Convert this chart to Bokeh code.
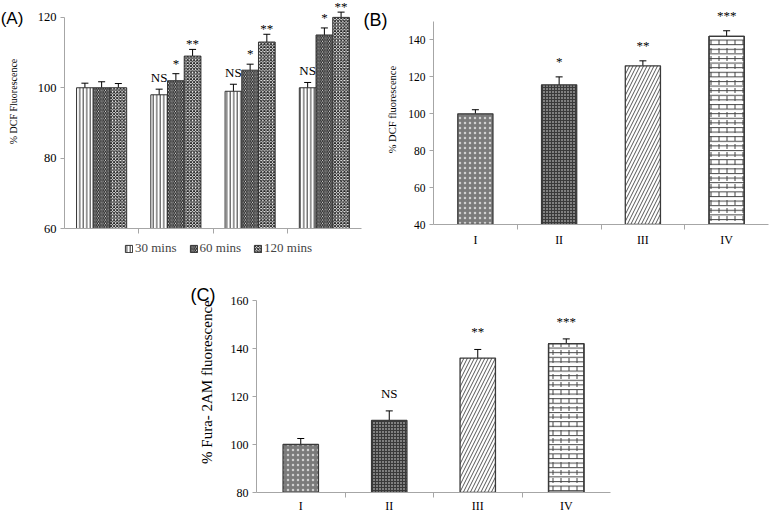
import numpy as np
from bokeh.plotting import figure
from bokeh.models import (ColumnDataSource, Range1d, FixedTicker, Whisker, TeeHead,
                          LabelSet, Label, Legend, LegendItem, Spacer)
from bokeh.layouts import column, row
from bokeh.embed import file_html
from bokeh.resources import INLINE

# ---------------- data ----------------
# Panel A: % DCF fluorescence over time (4 unlabeled groups)
a_groups = ["1", "2", "3", "4"]
a_series = ["30 mins", "60 mins", "120 mins"]
a_30 = [100, 98, 99, 100]
a_30_err = [1.3, 1.6, 2.0, 1.5]
a_30_sig = ["", "NS", "NS", "NS"]
a_60 = [100, 102, 105, 115]
a_60_err = [1.7, 2.0, 1.7, 2.0]
a_60_sig = ["", "*", "*", "*"]
a_120 = [100, 109, 113, 120]
a_120_err = [1.2, 1.9, 2.2, 1.5]
a_120_sig = ["", "**", "**", "**"]
a_yticks = [60, 80, 100, 120]

# Panel B: % DCF fluorescence
b_cats = ["I", "II", "III", "IV"]
b_vals = [100, 115.7, 126, 142]
b_err = [2.2, 4.3, 2.7, 3.0]
b_sig = ["", "*", "**", "***"]
b_yticks = [40, 60, 80, 100, 120, 140]

# Panel C: % Fura-2AM fluorescence
c_cats = ["I", "II", "III", "IV"]
c_vals = [100, 110, 136, 142]
c_err = [2.5, 4.0, 3.6, 2.0]
c_sig = ["", "NS", "**", "***"]
c_yticks = [80, 100, 120, 140, 160]

SERIF = "Liberation Serif"
SANS = "Liberation Sans"
AX = "#a6a6a6"


def make_fig(w, h, y0, y1, ytop, n, bl, br, bt, bb, yticks, ytick_size):
    p = figure(width=w, height=h, x_range=Range1d(-0.5, n - 0.5), y_range=Range1d(y0, ytop),
               output_backend="svg", toolbar_location=None,
               min_border_left=bl, min_border_right=br, min_border_top=bt, min_border_bottom=bb)
    p.outline_line_color = None
    p.xgrid.visible = False
    p.ygrid.visible = False
    p.background_fill_color = "white"
    p.border_fill_color = "white"
    ya = p.yaxis[0]
    ya.bounds = (y0, y1)
    ya.ticker = FixedTicker(ticks=yticks, minor_ticks=[])
    ya.axis_line_color = AX
    ya.major_tick_line_color = AX
    ya.major_tick_in = 0
    ya.major_tick_out = 4
    ya.major_label_standoff = 4
    ya.major_label_text_font = SERIF
    ya.major_label_text_font_size = ytick_size
    ya.major_label_text_color = "black"
    xa = p.xaxis[0]
    xa.ticker = FixedTicker(ticks=list(range(n)), minor_ticks=[k + 0.5 for k in range(n - 1)])
    xa.axis_line_color = AX
    xa.major_tick_line_color = None
    xa.major_tick_in = 0
    xa.major_tick_out = 0
    xa.minor_tick_line_color = AX
    xa.minor_tick_in = 0
    xa.minor_tick_out = 5
    xa.major_label_text_font = SERIF
    xa.major_label_text_color = "black"
    return p


def add_whisker(p, src):
    w = Whisker(source=src, base="x", upper="upper", lower="lower", dimension="height",
                line_color="black", line_width=1,
                upper_head=TeeHead(size=7, line_color="black", line_width=1),
                lower_head=TeeHead(size=7, line_color="black", line_width=1))
    p.add_layout(w)


def add_sig(p, src, yoff, size):
    ls = LabelSet(source=src, x="x", y="upper", text="sig", y_offset=yoff,
                  text_align="center", text_baseline="alphabetic",
                  text_font=SERIF, text_font_size=size, text_color="black")
    p.add_layout(ls)


def add_text(p, x, y, txt, font, size, angle=0.0, align="center"):
    # kept in the left side panel so it is not clipped to the plot frame
    p.add_layout(Label(x=x, y=y, x_units="data", y_units="data", text=txt,
                       text_font=font, text_font_size=size, angle=angle,
                       text_align=align, text_baseline="middle", text_color="black"), "left")


# ---------------- Panel A ----------------
pA = make_fig(362, 236, 60, 120, 124.8, len(a_groups), 61, 1, 0, 8, a_yticks, "12.5px")
pA.xaxis[0].major_label_text_font_size = "6px"
pA.xaxis[0].major_label_text_alpha = 0
pA.xaxis[0].major_label_standoff = 0
bw = 0.225
idx = np.arange(len(a_groups))
a_styles = [
    dict(fill_color="white", hatch_pattern="vertical_line", hatch_color="#333333", hatch_scale=3.5, hatch_weight=1),
    dict(fill_color="white", hatch_pattern="left_diagonal_line", hatch_color="#222222", hatch_scale=3.5, hatch_weight=1.2),
    dict(fill_color="white", hatch_pattern="diagonal_cross", hatch_color="#222222", hatch_scale=3.2, hatch_weight=1),
]
a_yoff = [7, 6, 1]
a_data = [(a_30, a_30_err, a_30_sig), (a_60, a_60_err, a_60_sig), (a_120, a_120_err, a_120_sig)]
for k, ((vals, errs, sig), st) in enumerate(zip(a_data, a_styles)):
    vals = np.array(vals, dtype=float)
    errs = np.array(errs, dtype=float)
    src = ColumnDataSource(dict(x=idx + (k - 1) * bw, top=vals, upper=vals + errs,
                                lower=vals - errs, sig=sig))
    pA.vbar(x="x", top="top", bottom=60, width=bw, source=src,
            line_color="#333333", line_width=1, **st)
    add_whisker(pA, src)
    add_sig(pA, src, a_yoff[k], "13px")
add_text(pA, -1.19, 96.1, "% DCF Fluorescence", SERIF, "10px", angle=np.pi / 2)
add_text(pA, -1.36, 119.7, "(A)", SANS, "17px", align="left")

# legend strip under panel A
pL = figure(width=362, height=26, x_range=Range1d(0, 1), y_range=Range1d(0, 1),
            output_backend="svg", toolbar_location=None, min_border=0,
            x_axis_location=None, y_axis_location=None)
pL.outline_line_color = None
pL.xgrid.visible = False
pL.ygrid.visible = False
items = []
for k, (st, (vals, errs, sig)) in enumerate(zip(a_styles, a_data)):
    r = pL.vbar(x="x", top="top", bottom=0, width=0.1,
                source=ColumnDataSource(dict(x=[k], top=[vals[0]])),
                line_color="#333333", line_width=1, visible=False, **st)
    items.append(LegendItem(label=a_series[k], renderers=[r]))
legA = Legend(items=items, orientation="horizontal", location=(60, 6),
              glyph_width=9, glyph_height=9, label_standoff=2, spacing=12,
              label_text_font=SERIF, label_text_font_size="13px", padding=0, margin=0,
              border_line_color=None, background_fill_alpha=0)
pL.add_layout(legA)

# ---------------- Panels B / C ----------------
bc_styles = [
    [dict(fill_color="#7a7a7a", hatch_pattern="dot", hatch_color="#d0d0d0", hatch_scale=5, hatch_weight=1)],
    [dict(fill_color="#3a3a3a", hatch_pattern="dot", hatch_color="#e8e8e8", hatch_scale=3, hatch_weight=1)],
    [dict(fill_color="white", hatch_pattern="right_diagonal_line", hatch_color="#555555", hatch_scale=7, hatch_weight=1)],
    [dict(fill_color="white", hatch_pattern="horizontal_line", hatch_color="#444444", hatch_scale=4.6, hatch_weight=1),
     dict(fill_color=None, hatch_pattern="vertical_dash", hatch_color="#444444", hatch_scale=8, hatch_weight=1)],
]


def bar_panel(p, cats, vals, errs, sig, y0, width, yoff, sigsize):
    vals = np.array(vals, dtype=float)
    errs = np.array(errs, dtype=float)
    x = np.arange(len(cats))
    p.xaxis[0].major_label_overrides = {int(i): c for i, c in zip(x, cats)}
    for i in range(len(cats)):
        s = ColumnDataSource(dict(x=[x[i]], top=[vals[i]]))
        for st in bc_styles[i]:
            p.vbar(x="x", top="top", bottom=y0, width=width, source=s,
                   line_color="#3a3a3a", line_width=1.3, **st)
    src = ColumnDataSource(dict(x=x, upper=vals + errs, lower=vals - errs, sig=sig))
    add_whisker(p, src)
    add_sig(p, src, yoff, sigsize)


pB = make_fig(407, 262, 40, 150, 161.4, len(b_cats), 71, 1, 0, 38, b_yticks, "11.5px")
pB.xaxis[0].major_label_text_font_size = "12px"
pB.xaxis[0].major_label_standoff = 3
bar_panel(pB, b_cats, b_vals, b_err, b_sig, 40, 0.42, 11, "13px")
add_text(pB, -0.990, 102.3, "% DCF fluorescence", SERIF, "10.5px", angle=np.pi / 2)
add_text(pB, -1.336, 151.1, "(B)", SANS, "18px", align="left")

pC = make_fig(433, 253, 80, 160, 160, len(c_cats), 76, 3, 38, 18, c_yticks, "12px")
pC.xaxis[0].major_label_text_font_size = "12px"
pC.xaxis[0].major_label_standoff = 1
bar_panel(pC, c_cats, c_vals, c_err, c_sig, 80, 0.40, 13, "13px")
add_text(pC, -1.054, 126.0, "% Fura- 2AM fluorescence", SERIF, "15px", angle=np.pi / 2)
add_text(pC, -1.246, 162.1, "(C)", SANS, "18px", align="left")

layout = column(row(column(pA, pL, spacing=0), pB, spacing=0),
                row(Spacer(width=180, height=253), pC, spacing=0), spacing=0)

open("out.html", "w").write(file_html(layout, INLINE))
